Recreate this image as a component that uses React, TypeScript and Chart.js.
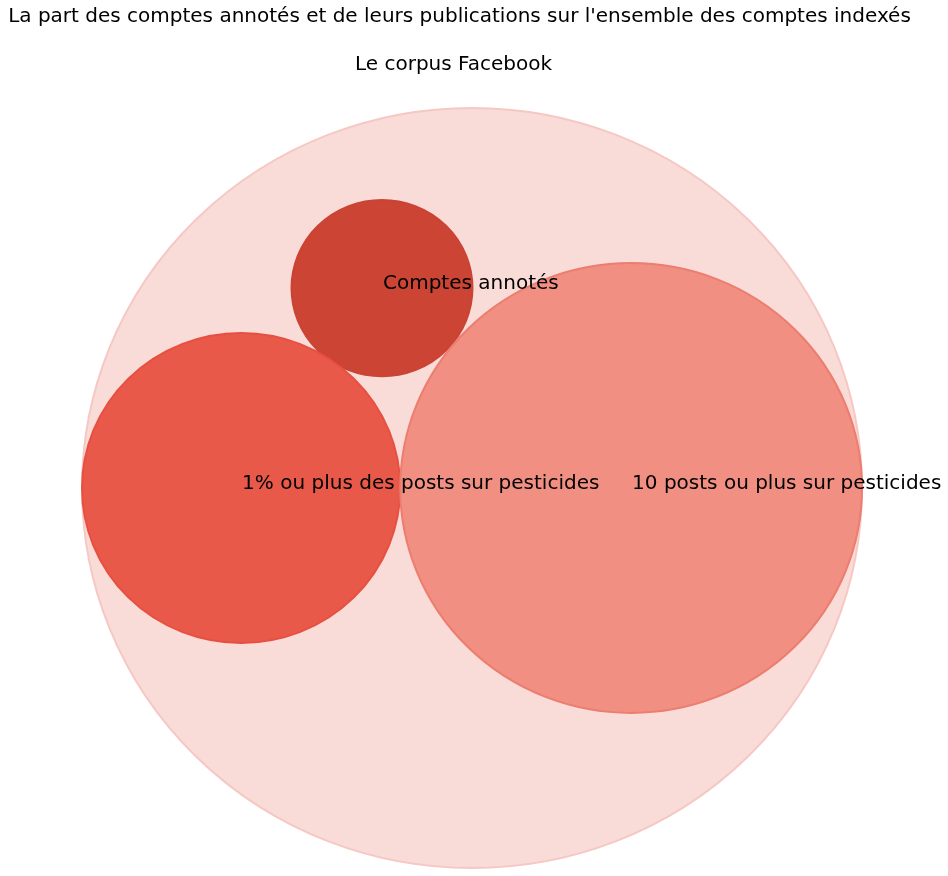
import React, { useEffect, useRef } from "react";
import { Chart, registerables } from "chart.js";

Chart.register(...registerables);

const TITLE = "La part des comptes annotés et de leurs publications sur l'ensemble des comptes indexés";
const SUBTITLE = "Le corpus Facebook";

const circleLabels = ["", "Comptes annotés", "1% ou plus des posts sur pesticides", "10 posts ou plus sur pesticides"];
const circleX = [0, -0.2308, -0.592, 0.408];
const circleY = [0, 0.526, 0, 0];
const circleR = [1, 0.232, 0.408, 0.592];
const fillColors = ["#f9dbd8", "#cb4434", "#e8594a", "#f08f82"];
const edgeColors = ["#f6c8c3", "#cb4335", "#e74f40", "#ec7d6f"];

const circlePlugin = {
  id: "circles",
  beforeDatasetsDraw(chart: any) {
    const { ctx, scales } = chart;
    const xs = scales.x;
    const ys = scales.y;
    ctx.save();
    for (let i = 0; i < circleX.length; i++) {
      const cx = xs.getPixelForValue(circleX[i]);
      const cy = ys.getPixelForValue(circleY[i]);
      const rx = Math.abs(xs.getPixelForValue(circleX[i] + circleR[i]) - cx);
      const ry = Math.abs(ys.getPixelForValue(circleY[i] + circleR[i]) - cy);
      ctx.beginPath();
      ctx.ellipse(cx, cy, rx, ry, 0, 0, Math.PI * 2);
      ctx.fillStyle = fillColors[i];
      ctx.fill();
      ctx.lineWidth = 2;
      ctx.strokeStyle = edgeColors[i];
      ctx.stroke();
    }
    ctx.fillStyle = "#000000";
    ctx.font = "20px 'DejaVu Sans'";
    ctx.textAlign = "left";
    ctx.textBaseline = "middle";
    for (let i = 0; i < circleX.length; i++) {
      if (!circleLabels[i]) continue;
      const cx = xs.getPixelForValue(circleX[i]);
      const cy = ys.getPixelForValue(circleY[i]);
      ctx.fillText(circleLabels[i], cx + 1, cy - 4);
    }
    ctx.textAlign = "center";
    ctx.fillText(TITLE, 459.5, 17);
    ctx.fillText(SUBTITLE, 453.5, 65);
    ctx.restore();
  },
};

export default function App() {
  const ref = useRef<HTMLCanvasElement | null>(null);
  useEffect(() => {
    if (!ref.current) return;
    const chart = new Chart(ref.current, {
      type: "scatter",
      data: {
        datasets: [
          {
            data: circleX.map((x, i) => ({ x, y: circleY[i] })),
            pointRadius: 0,
            pointHoverRadius: 0,
          },
        ],
      },
      options: {
        animation: false,
        responsive: false,
        events: [],
        layout: { padding: { left: 82, right: 86, top: 108, bottom: 8 } },
        scales: {
          x: { type: "linear", min: -1, max: 1, display: false },
          y: { type: "linear", min: -1, max: 1, display: false },
        },
        plugins: {
          legend: { display: false },
          title: { display: false },
          tooltip: { enabled: false },
        },
      },
      plugins: [circlePlugin],
    });
    return () => chart.destroy();
  }, []);
  return (
    <div style={{ position: "fixed", left: 0, top: 0, width: 948, height: 876, background: "#ffffff" }}>
      <canvas ref={ref} width={948} height={876} />
    </div>
  );
}
